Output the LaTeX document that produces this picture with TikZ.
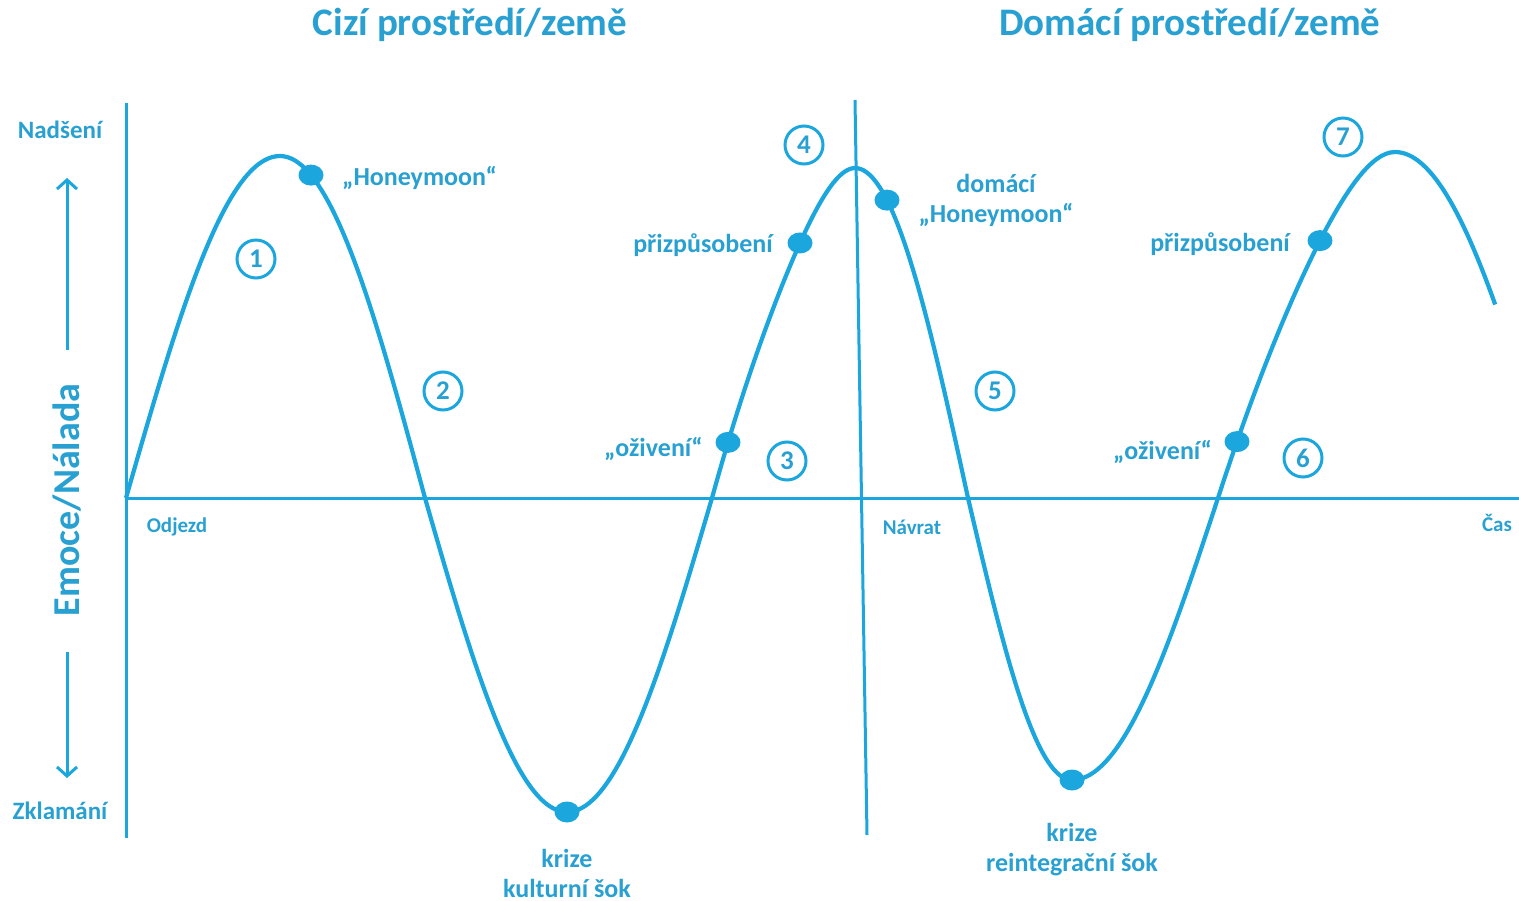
\documentclass[tikz,border=0pt]{standalone}
\usepackage{fontspec}
\setmainfont{Carlito}
\usetikzlibrary{arrows.meta,shapes.geometric}
\definecolor{cblue}{RGB}{27,166,222}
\definecolor{tblue}{RGB}{40,160,210}
\pgfmathdeclarefunction{warp}{2}{\pgfmathparse{90*(#1-#2*(#1*#1-#1*#1*#1))}}
\begin{document}
\begin{tikzpicture}[x=1pt,y=-1pt,
  axis/.style={draw=cblue, line width=3pt},
  curve/.style={draw=cblue, line width=4.2pt, line join=round},
  arr/.style={draw=cblue, line width=3pt, -{Straight Barb[length=9pt,width=20pt]}},
  dot/.style={ellipse, fill=cblue, minimum width=25pt, minimum height=21pt, inner sep=0pt},
  num/.style={circle, draw=cblue, line width=3pt, minimum size=38pt, inner sep=0pt, text=tblue, font=\bfseries\fontsize{27}{27}\selectfont},
  lbl/.style={text=tblue, font=\bfseries\fontsize{26}{30}\selectfont, align=center, inner sep=0pt},
  small/.style={text=tblue, font=\bfseries\fontsize{21}{24}\selectfont, inner sep=0pt},
  side/.style={text=tblue, font=\bfseries\fontsize{25}{28}\selectfont, inner sep=0pt},
  title/.style={text=tblue, font=\bfseries\fontsize{39}{42}\selectfont, inner sep=0pt}]
\useasboundingbox (0,0) rectangle (1519,901);
% axes
\coordinate (top) at (126,103);
\coordinate (bot) at (126,838);
\coordinate (o) at (126,498);
\coordinate (xend) at (1519,498);
\coordinate (mtop) at (855,100);
\coordinate (mbot) at (867,835);
\draw[axis] (top) -- (bot);
\draw[axis] (o) -- (xend);
\draw[axis] (mtop) -- (mbot);
% curve
\draw[curve]
  plot[domain=0:90,samples=40] ({126+154*\x/90},{498-342*sin(\x)})
  -- plot[domain=0:90,samples=40] ({280+145*\x/90},{498-342*cos(\x)})
  -- plot[domain=0:90,samples=40] ({425+142*\x/90},{498+314*sin(\x)})
  -- plot[domain=0:90,samples=40] ({567+145*\x/90},{498+314*cos(\x)})
  -- plot[domain=0:1,samples=40] ({712+143*\x},{498-330*sin(warp(\x,0.364))})
  -- plot[domain=0:90,samples=40] ({855+113*\x/90},{498-330*cos(\x)})
  -- plot[domain=0:90,samples=40] ({968+104*\x/90},{498+282*sin(\x)})
  -- plot[domain=0:90,samples=40] ({1072+146*\x/90},{498+282*cos(\x)})
  -- plot[domain=0:1,samples=40] ({1218+177*\x},{498-346*sin(warp(\x,0.3))})
  -- plot[domain=0:56,samples=30] ({1395+161*\x/90},{498-346*cos(\x)});
% dots
\node[dot] (d1) at (311,{498-342*cos((311-280)/145*90)}) {};
\node[dot] (d2) at (567,812) {};
\node[dot] (d3) at (728,{498-330*sin(warp((728-712)/143,0.364))}) {};
\node[dot] (d4) at (800,{498-330*sin(warp((800-712)/143,0.364))}) {};
\node[dot] (d5) at (887,{498-330*cos((887-855)/113*90)}) {};
\node[dot] (d6) at (1072,780) {};
\node[dot] (d7) at (1237,{498-346*sin(warp((1237-1218)/177,0.3))}) {};
\node[dot] (d8) at (1320,{498-346*sin(warp((1320-1218)/177,0.3))}) {};
% numbers
\node[num] (n1) at (256,259) {1};
\node[num] (n2) at (443,391) {2};
\node[num] (n3) at (787,461) {3};
\node[num] (n4) at (804,145) {4};
\node[num] (n5) at (995,391) {5};
\node[num] (n6) at (1303,458) {6};
\node[num] (n7) at (1343,137) {7};
% labels
\node[lbl, anchor=west] (hm) at (342,178) {„Honeymoon“};
\node[lbl, anchor=east] (p1) at (773,245) {přizpůsobení};
\node[lbl, anchor=east] (o1) at (703,449) {„oživení“};
\node[lbl] (k1) at (567,873) {krize\\kulturní šok};
\node[lbl] (dh) at (996,200) {domácí\\„Honeymoon“};
\node[lbl, anchor=east] (p2) at (1290,244) {přizpůsobení};
\node[lbl, anchor=east] (o2) at (1212,452) {„oživení“};
\node[lbl] (k2) at (1072,850) {krize\\reintegrační šok};
% axis labels
\node[small] (odj) at (177,527) {Odjezd};
\node[small] (nav) at (912,527) {Návrat};
\node[small] (cas) at (1497,523) {Čas};
\node[side] (nad) at (60,130) {Nadšení};
\node[side] (zkl) at (60,811) {Zklamání};
\node[title] (t1) at (470,25) {Cizí prostředí/země};
\node[title] (t2) at (1190,25) {Domácí prostředí/země};
\node[text=tblue, font=\bfseries\fontsize{38}{42}\selectfont, inner sep=0pt, rotate=90] (em) at (67,500) {Emoce/Nálada};
% arrows
\coordinate (au1) at (67,350);
\coordinate (au2) at (67,178);
\coordinate (ad1) at (67,652);
\coordinate (ad2) at (67,778);
\draw[arr] (au1) -- (au2);
\draw[arr] (ad1) -- (ad2);
\end{tikzpicture}
\end{document}
